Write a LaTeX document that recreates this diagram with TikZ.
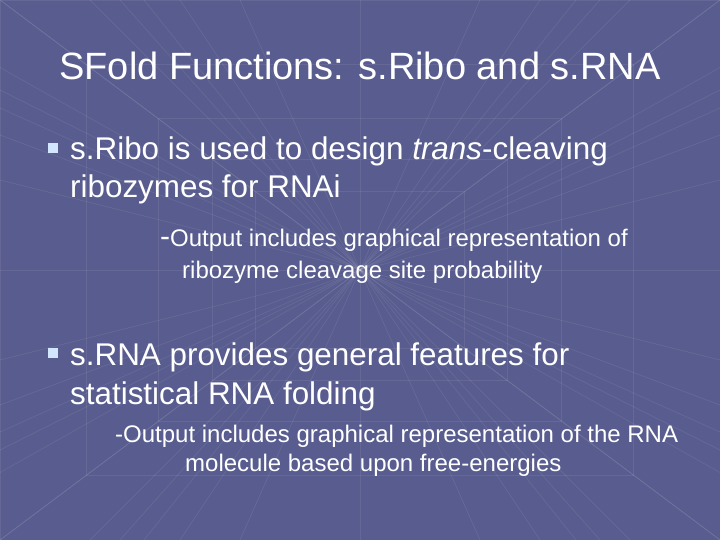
\documentclass[tikz,border=0pt]{standalone}
\usepackage{fontspec}
\setmainfont{Liberation Sans}
\begin{document}
\begin{tikzpicture}[x=1pt,y=-1pt,
  txt/.style={anchor=base west,inner sep=0pt,text=white},
  bul/.style={fill={rgb,255:red,210;green,230;blue,255},minimum size=10pt,inner sep=0pt,anchor=center},
  grid/.style={draw=white,opacity=0.08,line width=0.8pt}]
\useasboundingbox (0,0) rectangle (720,540);
\fill[fill={rgb,255:red,88;green,92;blue,142}] (0,0) rectangle (720,540);
\foreach \k in {-6,...,6}{
  \draw[grid] (360,270) -- (360+\k*120,0);
  \draw[grid] (360,270) -- (360+\k*120,540);
  \draw[grid] (360,270) -- (0,270+\k*90);
  \draw[grid] (360,270) -- (720,270+\k*90);
}
\foreach \s in {0.29,0.41,0.56,0.76,1.0}{
  \draw[grid] (360-360*\s,270-270*\s) rectangle (360+360*\s,270+270*\s);
}
\node[anchor=base,inner sep=0pt,text=white,font=\fontsize{38}{42}\selectfont] (title) at (360,80) {SFold Functions: s.Ribo and s.RNA};
\node[bul] (b1) at (52.5,148) {};
\node[txt,font=\fontsize{31.4}{34}\selectfont] (t1) at (70,160) {s.Ribo is used to design \textit{trans}-cleaving};
\node[txt,font=\fontsize{31.4}{34}\selectfont] (t2) at (70,198) {ribozymes for RNAi};
\node[txt,font=\fontsize{24}{26}\selectfont] (s1) at (160,246) {{\fontsize{30}{30}\selectfont -}Output includes graphical representation of};
\node[txt,font=\fontsize{24}{26}\selectfont] (s2) at (182,278) {ribozyme cleavage site probability};
\node[bul] (b2) at (52.5,353) {};
\node[txt,font=\fontsize{31.4}{34}\selectfont] (t3) at (70,365) {s.RNA provides general features for};
\node[txt,font=\fontsize{31.4}{34}\selectfont] (t4) at (70,404) {statistical RNA folding};
\node[txt,font=\fontsize{24}{26}\selectfont] (s3) at (115,442) {-Output includes graphical representation of the RNA};
\node[txt,font=\fontsize{24}{26}\selectfont] (s4) at (185,471) {molecule based upon free-energies};
\end{tikzpicture}
\end{document}
